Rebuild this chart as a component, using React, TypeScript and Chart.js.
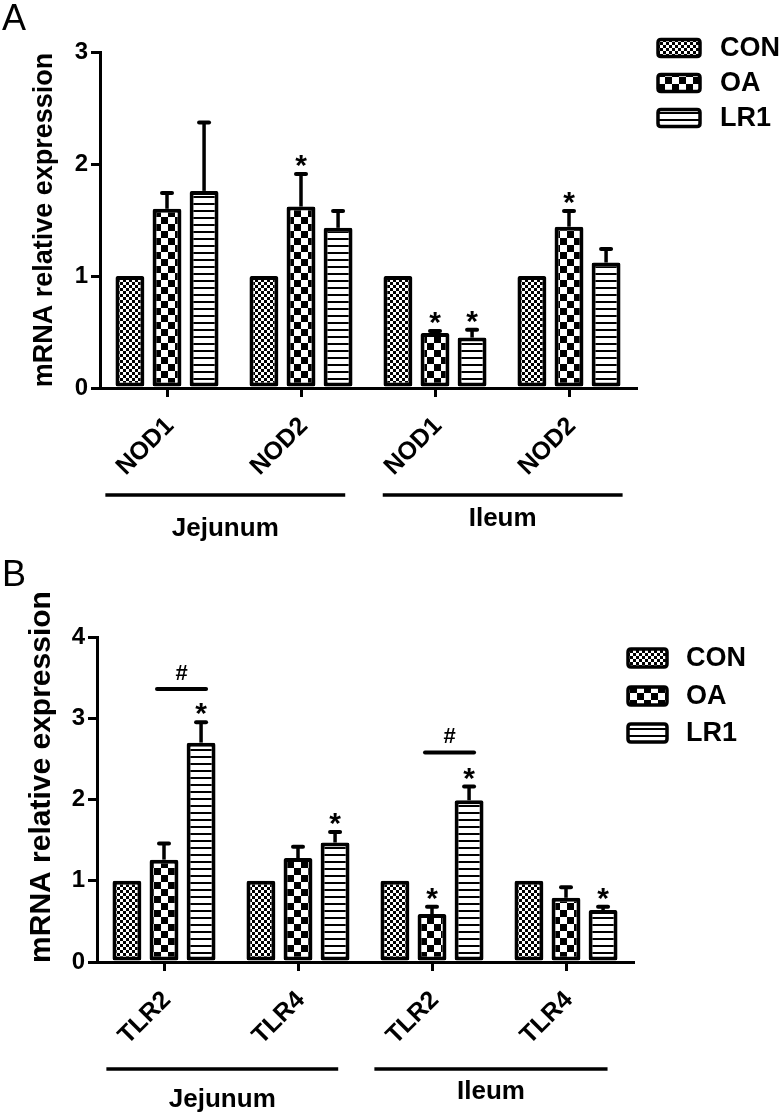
import { useEffect, useRef } from "react";
import { Chart, registerables } from "chart.js";

Chart.register(...registerables);

// ---------- data ----------
const seriesNames = ["CON", "OA", "LR1"];
const groupNames = ["Jejunum", "Ileum"];
const groupOf = [0, 0, 1, 1];
const yTitle = "mRNA relative expression";

// Panel A
const categoriesA = ["NOD1", "NOD2", "NOD1", "NOD2"];
const conA = [1, 1, 1, 1];
const oaA = [1.6, 1.62, 0.49, 1.44];
const lr1A = [1.76, 1.43, 0.45, 1.12];
const conErrA = [0, 0, 0, 0];
const oaErrA = [0.14, 0.29, 0.02, 0.14];
const lr1ErrA = [0.61, 0.15, 0.07, 0.12];
const conStarA = [false, false, false, false];
const oaStarA = [false, true, true, true];
const lr1StarA = [false, false, true, false];
const hashA: (number | null)[] = [null, null, null, null];
const yTicksA = [0, 1, 2, 3];

// Panel B
const categoriesB = ["TLR2", "TLR4", "TLR2", "TLR4"];
const conB = [1, 1, 1, 1];
const oaB = [1.26, 1.28, 0.59, 0.79];
const lr1B = [2.7, 1.47, 1.99, 0.64];
const conErrB = [0, 0, 0, 0];
const oaErrB = [0.2, 0.14, 0.09, 0.13];
const lr1ErrB = [0.25, 0.13, 0.17, 0.04];
const conStarB = [false, false, false, false];
const oaStarB = [false, false, true, false];
const lr1StarB = [true, true, true, true];
const hashB: (number | null)[] = [3.36, null, 2.58, null];
const yTicksB = [0, 1, 2, 3, 4];

// ---------- styles / layout ----------
const FONT = "'Liberation Sans', Arial, Helvetica, sans-serif";
const W = 783;

interface Layout {
  letter: string;
  height: number;
  left: number;
  right: number;
  top: number;
  bottom: number;
  titleX: number;
  titleY: number;
  titleSize: number;
  legendBoxX: number;
  legendBoxW: number;
  legendBoxH: number;
  legendTextX: number;
  legendRows: number[];
  legendFont: number;
  groupLineDy: number;
  groupLabelDy: number[];
  groupSpans: number[][];
  letterBaseline: number;
}

const layoutA: Layout = {
  letter: "A",
  height: 560,
  left: 100,
  right: 636,
  top: 52,
  bottom: 388,
  titleX: 45,
  titleY: 220,
  titleSize: 27,
  legendBoxX: 658,
  legendBoxW: 42,
  legendBoxH: 17,
  legendTextX: 720,
  legendRows: [48, 83, 118],
  legendFont: 27,
  groupLineDy: 107,
  groupLabelDy: [141, 131],
  groupSpans: [
    [-0.46, 0.33],
    [-0.39, 0.4],
  ],
  letterBaseline: 30,
};

const layoutB: Layout = {
  letter: "B",
  height: 558,
  left: 97,
  right: 633,
  top: 77,
  bottom: 402,
  titleX: 42,
  titleY: 217,
  titleSize: 30,
  legendBoxX: 628,
  legendBoxW: 39,
  legendBoxH: 18,
  legendTextX: 686,
  legendRows: [98, 136, 173],
  legendFont: 27,
  groupLineDy: 107,
  groupLabelDy: [138, 130],
  groupSpans: [
    [-0.43, 0.3],
    [-0.43, 0.31],
  ],
  letterBaseline: 26,
};

interface PanelData {
  categories: string[];
  values: number[][];
  errors: number[][];
  stars: boolean[][];
  hash: (number | null)[];
  yTicks: number[];
}

const panelA: PanelData = {
  categories: categoriesA,
  values: [conA, oaA, lr1A],
  errors: [conErrA, oaErrA, lr1ErrA],
  stars: [conStarA, oaStarA, lr1StarA],
  hash: hashA,
  yTicks: yTicksA,
};

const panelB: PanelData = {
  categories: categoriesB,
  values: [conB, oaB, lr1B],
  errors: [conErrB, oaErrB, lr1ErrB],
  stars: [conStarB, oaStarB, lr1StarB],
  hash: hashB,
  yTicks: yTicksB,
};

function makePattern(kind: number): CanvasPattern {
  const c = document.createElement("canvas");
  if (kind === 0) {
    c.width = 6;
    c.height = 6;
    const g = c.getContext("2d")!;
    g.fillStyle = "#fff";
    g.fillRect(0, 0, 6, 6);
    g.fillStyle = "#000";
    g.fillRect(0, 0, 3, 3);
    g.fillRect(3, 3, 3, 3);
    return g.createPattern(c, "repeat")!;
  } else if (kind === 1) {
    c.width = 14;
    c.height = 14;
    const g = c.getContext("2d")!;
    g.fillStyle = "#fff";
    g.fillRect(0, 0, 14, 14);
    g.fillStyle = "#000";
    g.fillRect(0, 0, 7, 7);
    g.fillRect(7, 7, 7, 7);
    return g.createPattern(c, "repeat")!;
  }
  c.width = 8;
  c.height = 7;
  const g = c.getContext("2d")!;
  g.fillStyle = "#fff";
  g.fillRect(0, 0, 8, 7);
  g.fillStyle = "#000";
  g.fillRect(0, 0, 8, 2);
  return g.createPattern(c, "repeat")!;
}

function roundRect(ctx: CanvasRenderingContext2D, x: number, y: number, w: number, h: number, r: number) {
  ctx.beginPath();
  ctx.moveTo(x + r, y);
  ctx.lineTo(x + w - r, y);
  ctx.quadraticCurveTo(x + w, y, x + w, y + r);
  ctx.lineTo(x + w, y + h - r);
  ctx.quadraticCurveTo(x + w, y + h, x + w - r, y + h);
  ctx.lineTo(x + r, y + h);
  ctx.quadraticCurveTo(x, y + h, x, y + h - r);
  ctx.lineTo(x, y + r);
  ctx.quadraticCurveTo(x, y, x + r, y);
  ctx.closePath();
}

function buildChart(canvas: HTMLCanvasElement, data: PanelData, L: Layout): Chart {
  const patterns = [makePattern(0), makePattern(1), makePattern(2)];

  const decor = {
    id: "decor" + L.letter,
    afterDatasetsDraw(chart: any) {
      const ctx: CanvasRenderingContext2D = chart.ctx;
      const ys = chart.scales.y;
      ctx.save();
      ctx.strokeStyle = "#000";
      ctx.fillStyle = "#000";
      data.values.forEach((vals, d) => {
        const meta = chart.getDatasetMeta(d);
        vals.forEach((v, i) => {
          const bar = meta.data[i];
          const e = data.errors[d][i];
          const top = ys.getPixelForValue(v);
          const et = ys.getPixelForValue(v + e);
          if (e > 0) {
            ctx.lineWidth = 3.5;
            ctx.lineCap = "butt";
            ctx.beginPath();
            ctx.moveTo(bar.x, top);
            ctx.lineTo(bar.x, et);
            ctx.stroke();
            ctx.lineWidth = 4;
            ctx.lineCap = "round";
            ctx.beginPath();
            ctx.moveTo(bar.x - 5, et);
            ctx.lineTo(bar.x + 5, et);
            ctx.stroke();
          }
          if (data.stars[d][i]) {
            ctx.font = `bold 30px ${FONT}`;
            ctx.textAlign = "center";
            ctx.textBaseline = "alphabetic";
            ctx.fillText("*", bar.x, et + 1);
          }
        });
      });
      const mOA = chart.getDatasetMeta(1);
      const mLR = chart.getDatasetMeta(2);
      data.hash.forEach((h, i) => {
        if (h == null) return;
        const xa = mOA.data[i].x - 7;
        const xb = mLR.data[i].x + 5;
        const yy = ys.getPixelForValue(h);
        ctx.lineWidth = 4;
        ctx.lineCap = "round";
        ctx.beginPath();
        ctx.moveTo(xa, yy);
        ctx.lineTo(xb, yy);
        ctx.stroke();
        ctx.font = `bold 22px ${FONT}`;
        ctx.textAlign = "center";
        ctx.textBaseline = "alphabetic";
        ctx.fillText("#", (xa + xb) / 2, yy - 9);
      });
      ctx.restore();
    },
    afterDraw(chart: any) {
      const ctx: CanvasRenderingContext2D = chart.ctx;
      const xs = chart.scales.x;
      const bottom = chart.chartArea.bottom;
      ctx.save();
      ctx.fillStyle = "#000";
      ctx.strokeStyle = "#000";

      // category labels, rotated
      ctx.font = `bold 25px ${FONT}`;
      data.categories.forEach((lab, i) => {
        const x = xs.getPixelForValue(i) + 3;
        ctx.save();
        ctx.translate(x, bottom + 34);
        ctx.rotate(-Math.PI / 4);
        ctx.textAlign = "right";
        ctx.textBaseline = "middle";
        ctx.fillText(lab, 0, 0);
        ctx.restore();
      });

      // group lines and labels
      const w = xs.getPixelForValue(1) - xs.getPixelForValue(0);
      groupNames.forEach((name, g) => {
        const idx = groupOf.map((gg, i) => (gg === g ? i : -1)).filter((i) => i >= 0);
        const x0 = xs.getPixelForValue(idx[0]) + L.groupSpans[g][0] * w;
        const x1 = xs.getPixelForValue(idx[idx.length - 1]) + L.groupSpans[g][1] * w;
        const ly = bottom + L.groupLineDy;
        ctx.lineWidth = 3.5;
        ctx.lineCap = "butt";
        ctx.beginPath();
        ctx.moveTo(x0, ly);
        ctx.lineTo(x1, ly);
        ctx.stroke();
        ctx.font = `bold 26px ${FONT}`;
        ctx.textAlign = "center";
        ctx.textBaseline = "middle";
        ctx.fillText(name, (x0 + x1) / 2, bottom + L.groupLabelDy[g]);
      });

      // y title
      ctx.save();
      ctx.translate(L.titleX, L.titleY);
      ctx.rotate(-Math.PI / 2);
      ctx.font = `bold ${L.titleSize}px ${FONT}`;
      ctx.textAlign = "center";
      ctx.textBaseline = "middle";
      ctx.fillText(yTitle, 0, 0);
      ctx.restore();

      // legend
      seriesNames.forEach((name, i) => {
        const ry = L.legendRows[i];
        roundRect(ctx, L.legendBoxX, ry - L.legendBoxH / 2, L.legendBoxW, L.legendBoxH, 3);
        ctx.fillStyle = patterns[i];
        ctx.fill();
        ctx.lineWidth = 3.5;
        ctx.strokeStyle = "#000";
        ctx.stroke();
        ctx.fillStyle = "#000";
        ctx.font = `bold ${L.legendFont}px ${FONT}`;
        ctx.textAlign = "left";
        ctx.textBaseline = "middle";
        ctx.fillText(name, L.legendTextX, ry + 1);
      });

      // panel letter
      ctx.font = `36px ${FONT}`;
      ctx.textAlign = "left";
      ctx.textBaseline = "alphabetic";
      ctx.fillText(L.letter, 2, L.letterBaseline);
      ctx.restore();
    },
  };

  const yMax = data.yTicks[data.yTicks.length - 1];

  return new Chart(canvas, {
    type: "bar",
    data: {
      labels: data.categories,
      datasets: seriesNames.map((name, d) => ({
        label: name,
        data: data.values[d],
        backgroundColor: patterns[d] as any,
        borderColor: "#000",
        borderWidth: 4,
        borderRadius: 2,
        borderSkipped: false,
        categoryPercentage: 0.83,
        barPercentage: 0.78,
      })),
    },
    options: {
      responsive: false,
      animation: false,
      events: [],
      layout: {
        padding: { left: 0, right: W - L.right, top: L.top, bottom: 0 },
      },
      plugins: {
        legend: { display: false },
        tooltip: { enabled: false },
        title: { display: false },
      },
      scales: {
        x: {
          type: "category",
          offset: true,
          grid: {
            display: true,
            offset: false,
            drawOnChartArea: false,
            drawTicks: true,
            tickLength: 9,
            color: "#000",
            lineWidth: 3,
          },
          border: { display: true, color: "#000", width: 3 },
          ticks: { display: false },
          afterFit: (s: any) => {
            s.height = L.height - L.bottom;
          },
        },
        y: {
          min: 0,
          max: yMax,
          grid: {
            display: true,
            drawOnChartArea: false,
            drawTicks: true,
            tickLength: 9,
            color: "#000",
            lineWidth: 3,
          },
          border: { display: true, color: "#000", width: 3 },
          ticks: {
            color: "#000",
            font: { family: FONT, size: 24, weight: "bold" },
            padding: 3,
          },
          afterBuildTicks: (s: any) => {
            s.ticks = data.yTicks.map((v) => ({ value: v }));
          },
          afterFit: (s: any) => {
            s.width = L.left;
          },
        },
      },
    },
    plugins: [decor],
  } as any);
}

function Panel({ data, layout }: { data: PanelData; layout: Layout }) {
  const ref = useRef<HTMLCanvasElement | null>(null);
  useEffect(() => {
    if (!ref.current) return;
    const chart = buildChart(ref.current, data, layout);
    return () => chart.destroy();
  }, [data, layout]);
  return <canvas ref={ref} width={W} height={layout.height} style={{ display: "block", width: W, height: layout.height }} />;
}

export default function App() {
  return (
    <div style={{ position: "absolute", left: 0, top: 0, width: W, height: 1118, background: "#fff" }}>
      <Panel data={panelA} layout={layoutA} />
      <Panel data={panelB} layout={layoutB} />
    </div>
  );
}
